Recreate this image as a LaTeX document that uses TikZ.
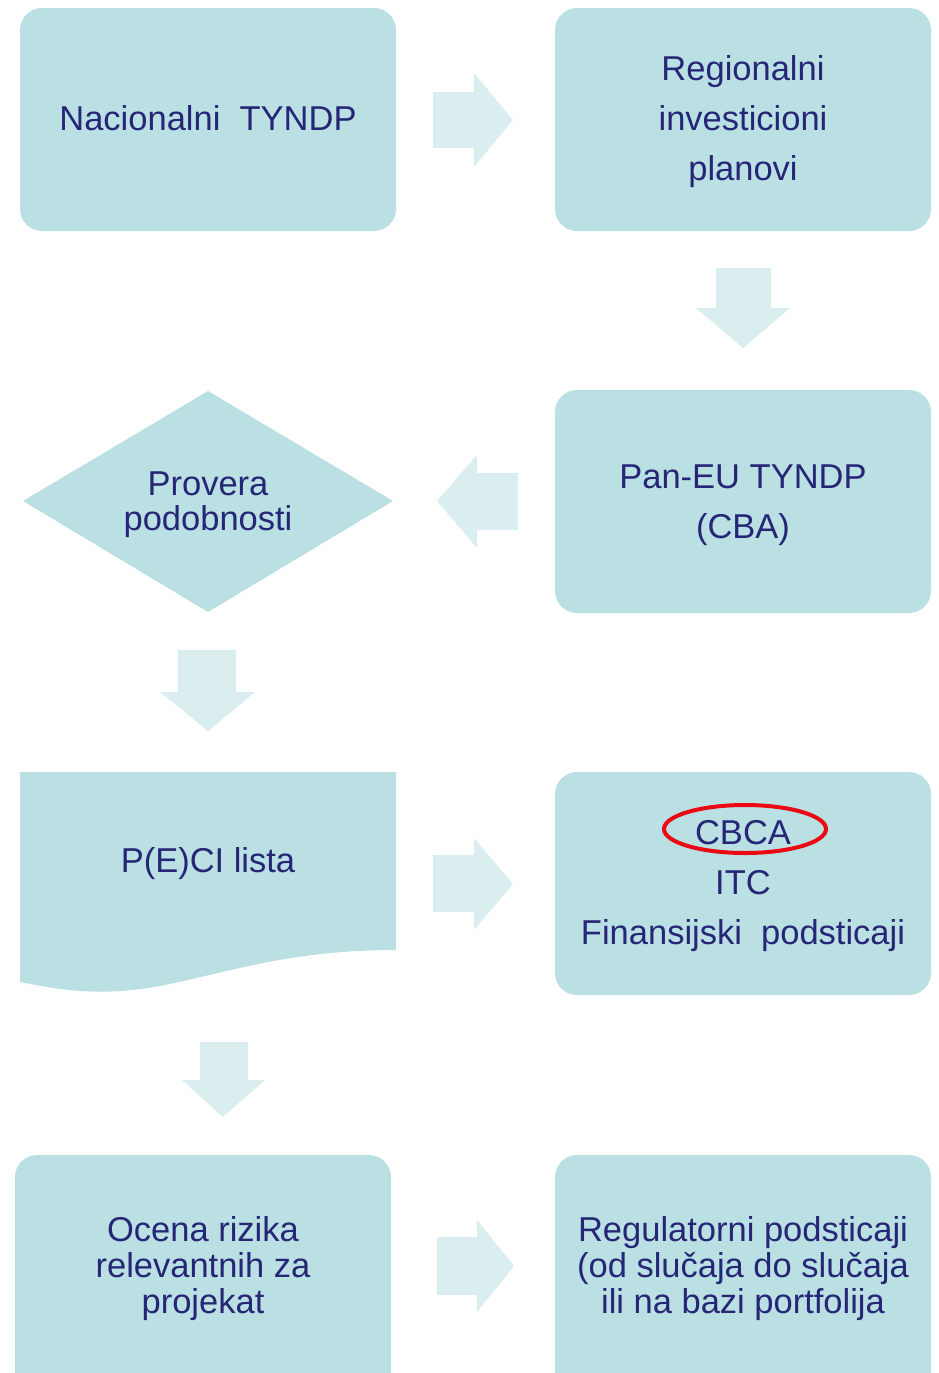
\documentclass[tikz,border=0pt]{standalone}
\usepackage{fontspec}
\setmainfont{Liberation Sans}
\usetikzlibrary{shapes.geometric}
\definecolor{boxfill}{RGB}{187,224,227}
\definecolor{arrowfill}{RGB}{218,238,240}
\definecolor{navytext}{RGB}{38,38,118}
\definecolor{ringred}{RGB}{235,10,20}
\tikzset{
  boxshape/.style={fill=boxfill, rounded corners=22pt},
  txt/.style={text=navytext, align=center, font=\fontsize{34.5}{50}\selectfont, inner sep=0pt},
  tighttxt/.style={text=navytext, align=center, font=\fontsize{34.5}{36}\selectfont, inner sep=0pt},
  blockarrow/.style={fill=arrowfill},
}
\begin{document}
\begin{tikzpicture}[x=1pt,y=-1pt]
\useasboundingbox (0,0) rectangle (938,1373);
\clip (0,0) rectangle (938,1373);
% boxes
\fill[boxshape] (20,8) rectangle (396,231);
\fill[boxshape] (555,8) rectangle (931,231);
\fill[boxshape] (555,390) rectangle (931,613);
\fill[boxshape] (555,772) rectangle (931,995);
\fill[boxshape] (15,1155) rectangle (391,1400);
\fill[boxshape] (555,1155) rectangle (931,1400);
% diamond
\fill[boxfill] (23,501) -- (208,391) -- (393,501) -- (208,612) -- cycle;
% document shape
\fill[boxfill] (20,772) -- (396,772) -- (396,950)
  .. controls (290,950) and (230,972) .. (160,986)
  .. controls (100,997) and (60,990) .. (20,982) -- cycle;
% block arrows
\fill[blockarrow] (433,92) -- (474,92) -- (474,73) -- (513,120) -- (474,167) -- (474,148) -- (433,148) -- cycle;
\fill[blockarrow] (716,268) -- (771,268) -- (771,308) -- (790,308) -- (743,348) -- (696,308) -- (716,308) -- cycle;
\fill[blockarrow] (518,473) -- (477,473) -- (477,455) -- (437,501) -- (477,548) -- (477,530) -- (518,530) -- cycle;
\fill[blockarrow] (178,650) -- (236,650) -- (236,692) -- (255,692) -- (208,731) -- (160,692) -- (178,692) -- cycle;
\fill[blockarrow] (433,855) -- (474,855) -- (474,838) -- (513,884) -- (474,930) -- (474,912) -- (433,912) -- cycle;
\fill[blockarrow] (200,1042) -- (248,1042) -- (248,1080) -- (265,1080) -- (223,1117) -- (182,1080) -- (200,1080) -- cycle;
\fill[blockarrow] (437,1237) -- (477,1237) -- (477,1220) -- (514,1266) -- (477,1312) -- (477,1295) -- (437,1295) -- cycle;
% texts
\node[txt] (nac) at (208,118) {Nacionalni\ \ TYNDP};
\node[txt] (reg) at (743,122) {Regionalni\\investicioni\\planovi};
\node[txt] (pan) at (743,505) {Pan-EU TYNDP\\(CBA)};
\node[text=navytext, align=center, font=\fontsize{34.5}{35}\selectfont, inner sep=0pt] (prov) at (208,505) {Provera\\podobnosti};
\node[txt] (peci) at (208,864) {P(E)CI lista};
\node[txt] (cbca) at (743,886) {CBCA\\ITC\\Finansijski\ \ podsticaji};
\node[tighttxt] (ocena) at (203,1269) {Ocena rizika\\relevantnih za\\projekat};
\node[tighttxt] (regp) at (743,1269) {Regulatorni podsticaji\\(od slučaja do slučaja\\ili na bazi portfolija};
% red ring
\draw[ringred, line width=4pt] (745,829) ellipse [x radius=81, y radius=24];
\end{tikzpicture}
\end{document}
